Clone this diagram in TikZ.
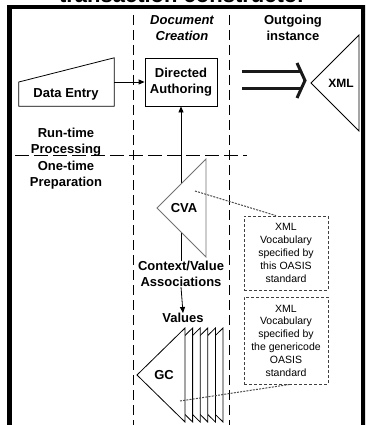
\documentclass[tikz,border=0pt]{standalone}
\usepackage{fontspec}
\setmainfont{Liberation Sans}
\usetikzlibrary{arrows.meta}
\begin{document}
\begin{tikzpicture}[x=1pt,y=-1pt,
  lbl/.style={font=\bfseries\fontsize{13}{16}\selectfont, align=center, inner sep=0pt, text=black},
  hdr/.style={lbl, font=\bfseries\itshape\fontsize{13}{16}\selectfont},
  note/.style={font=\fontsize{10.5}{12.8}\selectfont, align=center, inner sep=0pt},
  thinline/.style={line width=0.8pt},
  arr/.style={thinline, -{Triangle[length=6pt,width=5pt]}},
  sep/.style={line width=0.9pt, dash pattern=on 10pt off 5pt},
  dotbox/.style={draw=black!75, line width=0.8pt, dash pattern=on 3pt off 2pt},
  dotlink/.style={draw=black!70, line width=1pt, dash pattern=on 2pt off 1.2pt},
  tri/.style={thinline, fill=white},
  bigarrow/.style={line width=3pt, draw=black!90, miter limit=10},
]
\clip (0,0) rectangle (365,425);
\fill[white] (0,0) rectangle (365,425);
% cut-off title
\node[font=\bfseries\fontsize{22}{24}\selectfont, anchor=base, inner sep=0pt] (title) at (182.5,3) {transaction constructor};
% frame
\draw[line width=4.5pt] (9.5,470) -- (9.5,7) -- (363.5,7) -- (363.5,470);
% separators
\coordinate (v1t) at (133,15); \coordinate (v1b) at (133,430);
\coordinate (v2t) at (229,15); \coordinate (v2b) at (229,430);
\coordinate (hl) at (15,155); \coordinate (hr) at (247,155);
\draw[sep] (v1t) -- (v1b);
\draw[sep] (v2t) -- (v2b);
\draw[sep, dash pattern=on 14pt off 5pt] (hl) -- (hr);
% headers
\node[hdr] (h1) at (182,28) {Document\\Creation};
\node[lbl] (h2) at (293,28) {Outgoing\\instance};
\node[lbl] (rt) at (66,142) {Run-time\\Processing};
\node[lbl] (ot) at (66,175.5) {One-time\\Preparation};
% data entry
\node[minimum width=95pt, minimum height=48pt, inner sep=0pt] (de) at (66.5,82) {};
\draw[thinline] (de.south west) -- (de.west) -- (de.north east) -- (de.south east) -- cycle;
\node[lbl] (detext) at (66,94) {Data Entry};
% directed authoring
\node[draw, thinline, lbl, minimum width=72pt, minimum height=48pt] (da) at (181,82) {Directed\\Authoring};
\draw[arr] (de.east) -- (da.west);
% outgoing arrow
\coordinate (a1) at (242,72); \coordinate (a2) at (242,89);
\coordinate (ah1) at (297,63); \coordinate (atip) at (305,80.5); \coordinate (ah2) at (297,98);
\draw[bigarrow] (a1) -- (301,72);
\draw[bigarrow] (a2) -- (301,89);
\draw[bigarrow] (ah1) -- (atip) -- (ah2);
% XML triangle
\coordinate (xa) at (311,83); \coordinate (xt) at (359,35); \coordinate (xb) at (359,131);
\draw[tri] (xa) -- (xt) -- (xb) -- cycle;
\node[lbl, font=\bfseries\fontsize{12}{14}\selectfont] (xml) at (341,83) {XML};
% context/value associations
\node[lbl] (cv) at (181,274) {Context/Value\\Associations};
\draw[arr] (cv.north) -- (da.south);
\coordinate (ca) at (157,208); \coordinate (ct) at (206,159); \coordinate (cb) at (206,257);
\draw[tri, draw=black!55] (ct) -- (ca) -- (cb) -- cycle;
\node[lbl] (cva) at (184,208) {CVA};
% values
\node[lbl] (val) at (183,318) {Values};
\draw[arr] (cv.south) -- (val.north);
% GC stack
\foreach \i in {5,4,...,0} {
  \draw[tri] ({137+7.6*\i},375) -- ({185+7.6*\i},328) -- ({185+7.6*\i},422) -- cycle;
}
\node[lbl] (gc) at (164,375) {GC};
% vocabulary boxes
\node[dotbox, note, minimum width=84pt, minimum height=74pt] (b1) at (286,253) {XML\\Vocabulary\\specified by\\this OASIS\\standard};
\node[dotbox, note, minimum width=84pt, minimum height=87pt] (b2) at (286,340.5) {XML\\Vocabulary\\specified by\\the genericode\\OASIS\\standard};
% links
\coordinate (cvaend) at (195,191);
\coordinate (gcend) at (180,401);
\draw[dotlink] (cvaend) -- ([xshift=-10pt]b1.north);
\draw[dotlink] (gcend) -- ([xshift=4pt]b2.south);
\end{tikzpicture}
\end{document}
